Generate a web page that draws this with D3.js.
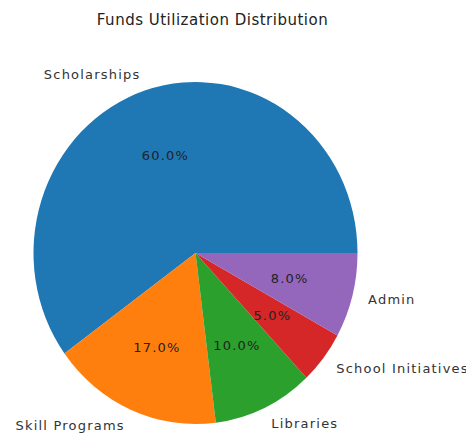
<!DOCTYPE html>
<html>
<head>
<meta charset="utf-8">
<script src="https://cdn.jsdelivr.net/npm/d3@7"></script>
<style>
  body { margin: 0; background: #fff; }
  text { font-family: "DejaVu Sans", sans-serif; }
</style>
</head>
<body>
<div id="chart"></div>
<script>
// data
var categories = ["Scholarships", "Skill Programs", "Libraries", "School Initiatives", "Admin"]
var shares = [60, 17, 10, 5, 8]
var colors = ["#1f77b4", "#ff7f0e", "#2ca02c", "#d62728", "#9467bd"]

var width = 466
var height = 439
var cx = 195.5
var cy = 253
var rx = 162   // the picture is a bit stretched vertically
var ry = 171

var svg = d3.select("#chart")
            .append("svg")
            .attr("width", width)
            .attr("height", height)

svg.append("text")
   .attr("x", cx + 17)
   .attr("y", 20)
   .attr("text-anchor", "middle")
   .attr("dominant-baseline", "central")
   .attr("font-size", "15px")
   .attr("letter-spacing", "0.5px")
   .attr("fill", "#222")
   .text("Funds Utilization Distribution")

// matplotlib starts at 3 o'clock and goes counterclockwise
var pie = d3.pie()
            .sort(null)
            .startAngle(Math.PI / 2)
            .endAngle(Math.PI / 2 - 2 * Math.PI)

var arcs = pie(shares)

var arc = d3.arc()
            .innerRadius(0)
            .outerRadius(rx)

var color = d3.scaleOrdinal()
              .domain(categories)
              .range(colors)

var slices = svg.append("g")
                .attr("transform", "translate(" + cx + "," + cy + ") scale(1," + (ry / rx) + ")")

slices.selectAll("path")
      .data(arcs)
      .enter()
      .append("path")
      .attr("d", arc)
      .attr("fill", function(d, i) { return color(categories[i]) })

// position along the ellipse at a fraction of the radius
function spot(d, f) {
  var a = (d.startAngle + d.endAngle) / 2
  return [cx + f * rx * Math.sin(a), cy - f * ry * Math.cos(a)]
}

svg.selectAll(".cat")
   .data(arcs)
   .enter()
   .append("text")
   .attr("class", "cat")
   .attr("x", function(d) { return spot(d, 1.1)[0] })
   .attr("y", function(d) { return spot(d, 1.1)[1] })
   .attr("text-anchor", function(d) { return spot(d, 1.1)[0] < cx ? "end" : "start" })
   .attr("dominant-baseline", "central")
   .attr("font-size", "13px")
   .attr("letter-spacing", "1.2px")
   .attr("fill", "#333")
   .text(function(d, i) { return categories[i] })

svg.selectAll(".pct")
   .data(arcs)
   .enter()
   .append("text")
   .attr("class", "pct")
   .attr("x", function(d) { return spot(d, 0.6)[0] })
   .attr("y", function(d) { return spot(d, 0.6)[1] })
   .attr("text-anchor", "middle")
   .attr("dominant-baseline", "central")
   .attr("font-size", "13px")
   .attr("letter-spacing", "1.2px")
   .attr("fill", "#222")
   .text(function(d) { return d3.format(".1f")(d.data) + "%" })
</script>
</body>
</html>
